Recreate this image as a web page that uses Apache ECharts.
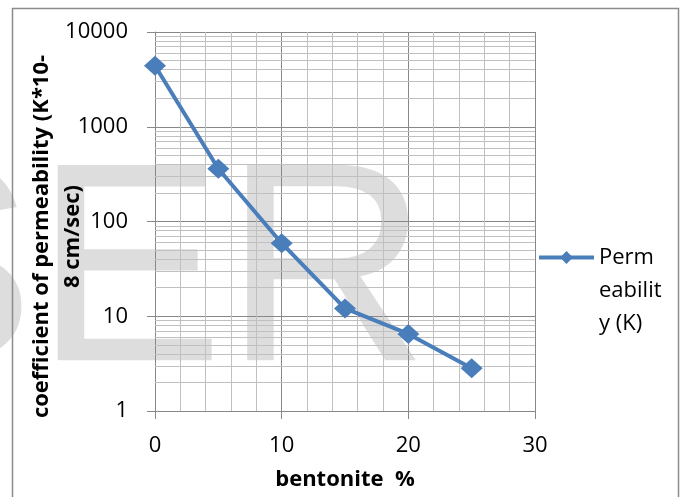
<!DOCTYPE html>
<html>
<head>
<meta charset="utf-8">
<script src="https://cdn.jsdelivr.net/npm/echarts@6/dist/echarts.min.js"></script>
<style>
html,body{margin:0;padding:0;background:#fff;}
#chart{width:680px;height:497px;}
</style>
</head>
<body>
<div id="chart"></div>
<script>
// Data
const bentonite = [0, 5, 10, 15, 20, 25];
const permeability = [4400, 360, 59, 12.1, 6.5, 2.82];
const seriesName = 'Permeability (K)';
const legendLines = ['', '', 'Perm', 'eabilit', 'y (K)'];
const xTitle = 'bentonite  %';
const yTitle = 'coefficient of permeability (K*10-\n8 cm/sec)';
const yDecades = [1, 10, 100, 1000];
const yMinorMultipliers = [2, 3, 4, 5, 6, 7, 8, 9];

const minorGridValues = [];
yDecades.forEach(d => yMinorMultipliers.forEach(m => minorGridValues.push(m * d)));

const FONT = '"Open Sans", sans-serif';
const MAJOR = '#888888';
const MINOR = '#c0c0c0';
const BLUE = '#4a7ebb';

const chart = echarts.init(document.getElementById('chart'), null, {renderer: 'canvas'});
chart.setOption({
  animation: false,
  backgroundColor: '#ffffff',
  textStyle: {fontFamily: FONT},
  graphic: {
    elements: [
      {
        type: 'text', x: -155, y: 282, z: -100, silent: true,
        style: {text: 'SER', font: '284px "Liberation Sans"', fill: '#dddddd', verticalAlign: 'middle'}
      },
      {
        type: 'rect', z: 100, silent: true,
        shape: {x: 12.5, y: 8.5, width: 666, height: 500},
        style: {fill: 'none', stroke: '#8c8c8c', lineWidth: 1.5}
      }
    ]
  },
  grid: {left: 155, right: 145, top: 32, bottom: 86, containLabel: false, outerBoundsMode: 'none'},
  legend: {
    left: 532, top: 170,
    itemWidth: 55, itemHeight: 16,
    data: [seriesName],
    formatter: () => legendLines.join('\n'),
    lineStyle: {width: 4},
    textStyle: {fontFamily: FONT, fontSize: 22, color: '#000', lineHeight: 33}
  },
  xAxis: {
    type: 'value', min: 0, max: 30, interval: 10,
    name: xTitle, nameLocation: 'middle', nameGap: 58, nameMoveOverlap: false,
    nameTextStyle: {fontFamily: FONT, fontSize: 22, fontWeight: 'bold', color: '#000'},
    axisLine: {show: true, lineStyle: {color: MAJOR, width: 1}},
    axisTick: {show: true, length: 8, lineStyle: {color: MAJOR}},
    axisLabel: {fontFamily: FONT, fontSize: 22, color: '#000', margin: 24},
    splitLine: {show: true, lineStyle: {color: MAJOR, width: 1}},
    minorTick: {show: false, splitNumber: 5},
    minorSplitLine: {show: true, lineStyle: {color: MINOR, width: 1}}
  },
  yAxis: {
    type: 'log', logBase: 10, min: 1, max: 10000,
    name: yTitle, nameLocation: 'middle', nameGap: 67, nameMoveOverlap: false,
    nameTextStyle: {fontFamily: FONT, fontSize: 22, fontWeight: 'bold', color: '#000', lineHeight: 31, padding: [0, 30, 0, 0]},
    axisLine: {show: true, lineStyle: {color: MAJOR, width: 1}},
    axisTick: {show: true, length: 8, lineStyle: {color: MAJOR}},
    axisLabel: {fontFamily: FONT, fontSize: 22, color: '#000', margin: 27, formatter: v => String(v)},
    splitLine: {show: true, lineStyle: {color: MAJOR, width: 1}}
  },
  series: [{
    name: seriesName,
    type: 'line',
    data: bentonite.map((x, i) => [x, permeability[i]]),
    symbol: 'diamond',
    symbolSize: [22, 20],
    itemStyle: {color: BLUE},
    lineStyle: {color: BLUE, width: 4},
    z: 2,
    markLine: {
      z: 1,
      silent: true,
      symbol: ['none', 'none'],
      label: {show: false},
      lineStyle: {type: 'solid', color: MINOR, width: 1},
      emphasis: {disabled: true},
      animation: false,
      data: minorGridValues.map(v => ({yAxis: v}))
    }
  }]
});
</script>
</body>
</html>
